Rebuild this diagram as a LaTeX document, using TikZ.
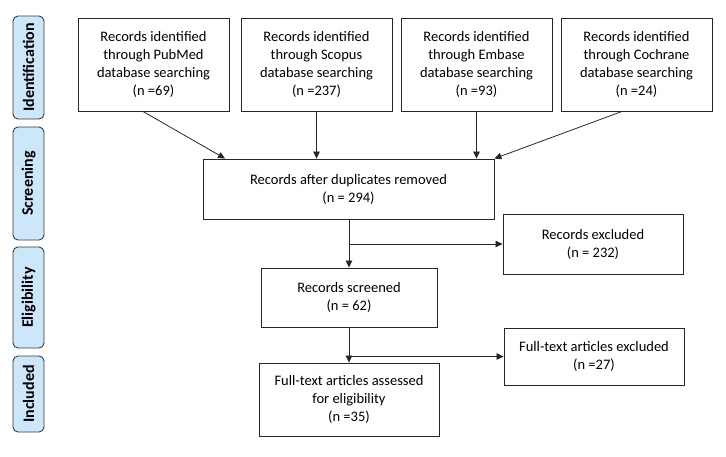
\documentclass[tikz,border=0pt]{standalone}
\usepackage{fontspec}
\setmainfont{Carlito}
\usetikzlibrary{arrows.meta}

\definecolor{stagefill}{HTML}{CCE6FA}
\definecolor{stageline}{HTML}{3A3A3A}

\tikzset{
  record/.style={draw=black!85, line width=0.9pt, align=center, inner sep=2pt,
    font=\fontsize{14.5}{18}\selectfont},
  stage/.style={draw=stageline, fill=stagefill, line width=0.9pt, rounded corners=5pt,
    rotate=90, minimum height=31pt, inner sep=0pt,
    font=\fontsize{16}{18}\selectfont\bfseries},
  flow/.style={-{Triangle[length=7pt,width=6.5pt]}, line width=0.8pt, black!85}
}

\begin{document}
\begin{tikzpicture}[x=1pt,y=-1pt]
        \useasboundingbox (0,0) rectangle (726,456);
        % Stages
        \node[stage, minimum width=103pt] (identif) at (28.5,67.5) {Identification};
        \node[stage, minimum width=113pt] (screen) at (28.5,183.5) {Screening};
        \node[stage, minimum width=101pt] (elig) at (28.5,297.5) {Eligibility};
        \node[stage, minimum width=76pt] (incl) at (28.5,394) {Included};
        % Sources
        \node[record, minimum width=151pt, minimum height=93pt] (pubmed) at (153.5,64.5)
          {Records identified\\through PubMed\\database searching\\(n =69)};
        \node[record, minimum width=151pt, minimum height=93pt] (scopus) at (316.5,64.5)
          {Records identified\\through Scopus\\database searching\\(n =237)};
        \node[record, minimum width=151pt, minimum height=93pt] (embase) at (476.5,64.5)
          {Records identified\\through Embase\\database searching\\(n =93)};
        \node[record, minimum width=151pt, minimum height=93pt] (cochrane) at (636.5,64.5)
          {Records identified\\through Cochrane\\database searching\\(n =24)};
        % Flow
        \node[record, minimum width=291pt, minimum height=60pt] (dedup) at (348.5,189)
          {Records after duplicates removed\\(n = 294)};
        \node[record, minimum width=180pt, minimum height=60pt] (excluded) at (593,244)
          {Records excluded\\(n = 232)};
        \node[record, minimum width=176pt, minimum height=59pt] (screened) at (349,297.5)
          {Records screened\\(n = 62)};
        \node[record, minimum width=180pt, minimum height=57pt] (ftexcl) at (594,356.5)
          {Full-text articles excluded\\(n =27)};
        \node[record, minimum width=180pt, minimum height=73pt] (assessed) at (349,399.5)
          {Full-text articles assessed\\for eligibility\\(n =35)};
        % Arrows
        \draw[flow] ([xshift=-10.5pt]pubmed.south) -- ([xshift=-123.5pt]dedup.north);
        \draw[flow] (scopus.south) -- (scopus.south |- dedup.north);
        \draw[flow] (embase.south) -- (embase.south |- dedup.north);
        \draw[flow] ([xshift=-14.5pt]cochrane.south) -- (dedup.north east);
        \draw[flow] (dedup.south -| screened.north) -- (screened.north);
        \draw[flow] (screened.north |- excluded.west) -- (excluded.west);
        \draw[flow] (screened.south) -- (assessed.north);
        \draw[flow] (screened.south |- ftexcl.west) -- (ftexcl.west);
    \end{tikzpicture}
\end{document}
